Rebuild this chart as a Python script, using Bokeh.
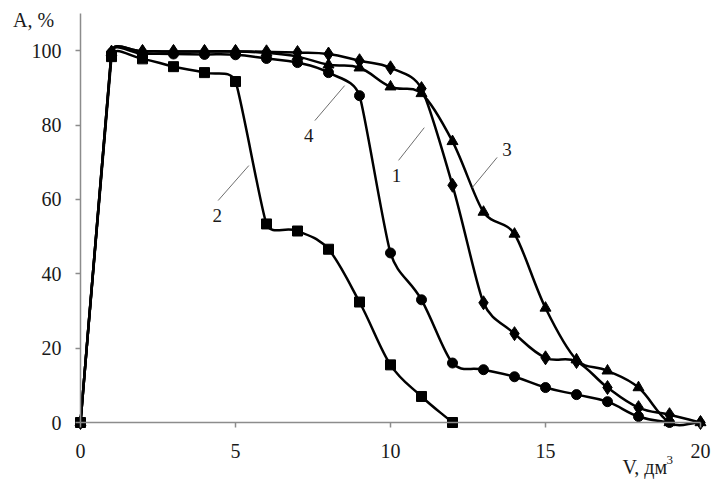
import math
from bokeh.plotting import figure
from bokeh.models import Range1d, FixedTicker, Label, ColumnDataSource
from bokeh.embed import file_html
from bokeh.resources import INLINE

# ---- data ----
x_vals_1 = [0, 1, 2, 3, 4, 5, 6, 7, 8, 9, 10, 11, 12, 13, 14, 15, 16, 17, 18, 19, 20]
a_vals_1 = [0, 99.6, 99.8, 99.8, 99.8, 99.8, 99.7, 99.5, 99.1, 97.3, 95.4, 89.8, 63.8, 32.2, 23.9, 17.4, 16.4, 9.4, 4.0, 2.1, 0]

x_vals_2 = [0, 1, 2, 3, 4, 5, 6, 7, 8, 9, 10, 11, 12]
a_vals_2 = [0, 98.4, 97.8, 95.7, 94.1, 91.7, 53.4, 51.5, 46.6, 32.4, 15.5, 7.0, 0]

x_vals_3 = [0, 1, 2, 3, 4, 5, 6, 7, 8, 9, 10, 11, 12, 13, 14, 15, 16, 17, 18, 19, 20]
a_vals_3 = [0, 99.6, 99.8, 99.8, 99.8, 99.8, 99.4, 98.4, 96.2, 95.4, 90.3, 88.5, 75.6, 56.6, 50.7, 30.8, 16.9, 13.9, 9.4, 0, 0]

x_vals_4 = [0, 1, 2, 3, 4, 5, 6, 7, 8, 9, 10, 11, 12, 13, 14, 15, 16, 17, 18, 19]
a_vals_4 = [0, 99.4, 99.2, 99.1, 99.0, 98.9, 97.9, 96.8, 94.1, 87.9, 45.6, 33.0, 16.0, 14.2, 12.3, 9.4, 7.5, 5.6, 1.6, 0]

x_ticks = [0, 5, 10, 15, 20]
y_ticks = [0, 20, 40, 60, 80, 100]

curve_names = ["1", "2", "3", "4"]
name_x = [10.19, 4.41, 13.76, 7.36]
name_y = [66.5, 55.7, 73.4, 77.2]
leader_x0 = [10.26, 4.44, 12.64, 7.56]
leader_y0 = [70.5, 59.7, 63.2, 81.2]
leader_x1 = [11.09, 5.43, 13.44, 8.52]
leader_y1 = [79.3, 69.1, 71.3, 90.6]

y_title = "A, %"
x_title = "V, дм"
x_title_sup = "3"

# ---- layout (pixels) ----
W, H = 713, 479
X0_PX, X20_PX = 80, 700        # pixel column of V = 0 and V = 20
Y0_PX, YTOP_PX = 422, 13       # pixel row of A = 0 and of the axis top (A = 110)
X_MAX, Y_MAX = 20, 110
sx = (X20_PX - X0_PX) / X_MAX
sy = (Y0_PX - YTOP_PX) / Y_MAX
x_lo = -X0_PX / sx
x_hi = x_lo + W / sx
y_lo = -(H - Y0_PX) / sy
y_hi = y_lo + H / sy

p = figure(width=W, height=H, output_backend="svg", toolbar_location=None,
           x_range=Range1d(x_lo, x_hi), y_range=Range1d(y_lo, y_hi),
           min_border=0)
p.xgrid.visible = False
p.ygrid.visible = False
p.outline_line_color = None
p.background_fill_color = "white"
p.border_fill_color = "white"

FONT = "Liberation Serif"
for ax in (p.xaxis[0], p.yaxis[0]):
    ax.fixed_location = 0
    ax.axis_line_color = "#8c8c8c"
    ax.axis_line_width = 1.5
    ax.major_tick_line_color = "#8c8c8c"
    ax.major_tick_line_width = 1.5
    ax.major_tick_out = 5
    ax.major_tick_in = 0
    ax.minor_tick_out = 0
    ax.minor_tick_in = 0
    ax.major_label_text_font = FONT
    ax.major_label_text_font_size = "20px"
    ax.major_label_text_color = "#1a1a1a"
p.xaxis[0].ticker = FixedTicker(ticks=x_ticks)
p.yaxis[0].ticker = FixedTicker(ticks=y_ticks)
p.xaxis[0].bounds = (0, X_MAX)
p.yaxis[0].bounds = (0, Y_MAX)
p.xaxis[0].major_label_standoff = 16
p.yaxis[0].major_label_standoff = 14


def smooth_source(xs, ys, s=0.42):
    P = [(x * sx, y * sy) for x, y in zip(xs, ys)]
    n = len(P)
    tans, reach = [], []
    for i in range(n):
        if i == 0:
            d = (P[1][0] - P[0][0], P[1][1] - P[0][1])
            r = math.hypot(*d)
        elif i == n - 1:
            d = (P[i][0] - P[i - 1][0], P[i][1] - P[i - 1][1])
            r = math.hypot(*d)
        else:
            d = (P[i + 1][0] - P[i - 1][0], P[i + 1][1] - P[i - 1][1])
            r = min(math.hypot(P[i + 1][0] - P[i][0], P[i + 1][1] - P[i][1]),
                    math.hypot(P[i][0] - P[i - 1][0], P[i][1] - P[i - 1][1]))
        L = math.hypot(*d) or 1.0
        tans.append((d[0] / L, d[1] / L))
        reach.append(r * s)
    data = dict(x0=[], y0=[], x1=[], y1=[], cx0=[], cy0=[], cx1=[], cy1=[])
    for i in range(n - 1):
        seg = math.hypot(P[i + 1][0] - P[i][0], P[i + 1][1] - P[i][1])
        r0 = min(reach[i], seg * s)
        r1 = min(reach[i + 1], seg * s)
        c0 = (P[i][0] + tans[i][0] * r0, P[i][1] + tans[i][1] * r0)
        c1 = (P[i + 1][0] - tans[i + 1][0] * r1, P[i + 1][1] - tans[i + 1][1] * r1)
        data["x0"].append(xs[i]); data["y0"].append(ys[i])
        data["x1"].append(xs[i + 1]); data["y1"].append(ys[i + 1])
        data["cx0"].append(c0[0] / sx); data["cy0"].append(c0[1] / sy)
        data["cx1"].append(c1[0] / sx); data["cy1"].append(c1[1] / sy)
    return ColumnDataSource(data)


series = [
    (x_vals_1, a_vals_1, "diamond", 14),
    (x_vals_3, a_vals_3, "triangle", 11),
    (x_vals_4, a_vals_4, "circle", 10),
    (x_vals_2, a_vals_2, "square", 10),
]
for xs, ys, mk, sz in series:
    p.bezier(x0="x0", y0="y0", x1="x1", y1="y1", cx0="cx0", cy0="cy0", cx1="cx1", cy1="cy1",
             source=smooth_source(xs, ys), line_color="black", line_width=2.5)
for xs, ys, mk, sz in series:
    p.scatter(xs, ys, marker=mk, size=sz, fill_color="black", line_color="black")

# curve numbers with leader lines
p.segment(x0=leader_x0, y0=leader_y0, x1=leader_x1, y1=leader_y1, line_color="#6e6e6e", line_width=1)
for t, lx, ly in zip(curve_names, name_x, name_y):
    p.add_layout(Label(x=lx, y=ly, text=t, text_font=FONT, text_font_size="19px",
                       text_color="#1a1a1a", text_align="center", text_baseline="middle"))

# axis titles
p.add_layout(Label(x=(33 - X0_PX) / sx, y=(Y0_PX - 19) / sy, text=y_title,
                   text_font=FONT, text_font_size="20px",
                   text_color="#1a1a1a", text_align="center", text_baseline="middle"))
p.add_layout(Label(x=(622 - X0_PX) / sx, y=(Y0_PX - 466) / sy, text=x_title,
                   text_font=FONT, text_font_size="20px",
                   text_color="#1a1a1a", text_align="left", text_baseline="middle"))
p.add_layout(Label(x=(666 - X0_PX) / sx, y=(Y0_PX - 459) / sy, text=x_title_sup,
                   text_font=FONT, text_font_size="13px",
                   text_color="#1a1a1a", text_align="left", text_baseline="middle"))

open("out.html", "w").write(file_html(p, INLINE))
